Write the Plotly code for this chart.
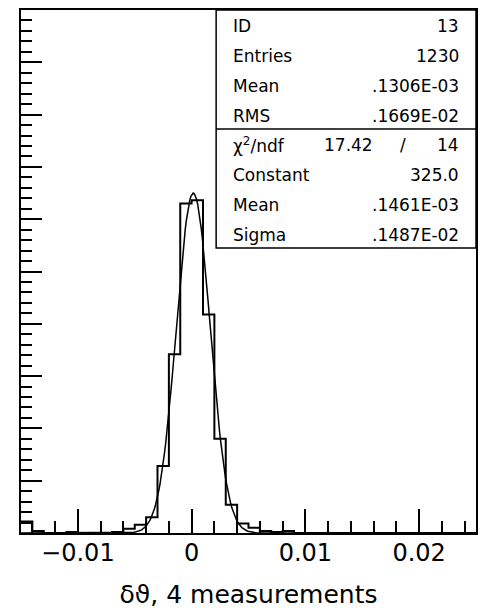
import numpy as np
import plotly.graph_objects as go

# histogram: 40 bins of 0.001 from -0.015 to 0.025
x_min = -0.015
bin_width = 0.001
counts = [11, 2, 0, 0, 1, 0, 0, 0, 1, 4,
          8, 15, 64, 171, 315, 318, 209, 90, 27, 9,
          5, 2, 1, 2, 0, 0, 0, 0, 0, 0,
          0, 0, 0, 0, 0, 0, 0, 0, 0, 0]

# gaussian fit parameters from the stats box
fit_const = 325.0
fit_mean = 0.1461e-03
fit_sigma = 0.1487e-02

stat_labels = ["ID", "Entries", "Mean", "RMS"]
stat_values = ["13", "1230", ".1306E-03", ".1669E-02"]
fit_labels = ["Constant", "Mean", "Sigma"]
fit_values = ["325.0", ".1461E-03", ".1487E-02"]
chi2 = "17.42"
ndf = "14"

edges = [x_min + bin_width * i for i in range(len(counts) + 1)]
hx = edges
hy = counts + [counts[-1]]

xf = np.linspace(edges[0], edges[-1], 400)
yf = fit_const * np.exp(-0.5 * ((xf - fit_mean) / fit_sigma) ** 2)

fig = go.Figure()
fig.add_trace(go.Scatter(x=hx, y=hy, mode="lines", line_shape="hv",
                         line=dict(color="black", width=2), showlegend=False))
fig.add_trace(go.Scatter(x=xf, y=yf, mode="lines",
                         line=dict(color="black", width=1.5), showlegend=False))

# plot area in pixels: x 21..478, y 10..533
L, R, T, B = 21, 478, 10, 533
def px(x):
    return (x - L) / (R - L)
def py(y):
    return (B - y) / (B - T)

font = dict(family="DejaVu Sans", size=17, color="black")
box_l, box_r, box_t, box_b = 217, 478, 10, 248
row_h = (box_b - box_t) / 8
fig.add_shape(type="rect", xref="paper", yref="paper",
              x0=px(box_l), x1=px(box_r), y0=py(box_b), y1=py(box_t),
              line=dict(color="black", width=1.5), fillcolor="white")
fig.add_shape(type="line", xref="paper", yref="paper",
              x0=px(box_l), x1=px(box_r), y0=py(box_t + 4 * row_h), y1=py(box_t + 4 * row_h),
              line=dict(color="black", width=1.5))

def note(x, y, text, anchor):
    fig.add_annotation(x=px(x), y=y, text=text, xanchor=anchor, yanchor="middle",
                       showarrow=False, font=font, xref="paper", yref="paper")

rows = list(zip(stat_labels, stat_values)) + [(None, None)] + list(zip(fit_labels, fit_values))
for i, (lab, val) in enumerate(rows):
    yc = py(box_t + row_h * (i + 0.5) + 1.5)
    if lab is None:
        note(232, yc, "χ<sup>2</sup>/ndf", "left")
        note(377, yc, chi2, "right")
        note(405, yc, "/", "center")
        note(463, yc, ndf, "right")
        continue
    note(232, yc, lab, "left")
    note(463, yc, val, "right")

axis_font = dict(family="DejaVu Sans", size=24, color="black")
fig.update_xaxes(range=[edges[0], edges[-1]], dtick=0.01, tick0=0,
                 ticks="inside", ticklen=24, tickwidth=1.5, tickcolor="black",
                 minor=dict(dtick=0.002, tick0=0, ticks="inside", ticklen=12,
                            tickwidth=1.5, tickcolor="black"),
                 showline=True, linecolor="black", linewidth=2, mirror=True,
                 showgrid=False, zeroline=False, tickfont=axis_font,
                 ticklabelstandoff=-3,
                 title=dict(text="δϑ, 4 measurements",
                            font=dict(family="DejaVu Sans", size=25, color="black"),
                            standoff=20))
fig.update_yaxes(range=[0, 500], dtick=50, tick0=0,
                 ticks="inside", ticklen=21, tickwidth=1.5, tickcolor="black",
                 minor=dict(dtick=10, tick0=0, ticks="inside", ticklen=11,
                            tickwidth=1.5, tickcolor="black"),
                 showline=True, linecolor="black", linewidth=2, mirror=True,
                 showgrid=False, zeroline=False, showticklabels=False)
fig.update_layout(width=481, height=616, plot_bgcolor="white", paper_bgcolor="white",
                  margin=dict(l=L, r=481 - R, t=T, b=616 - B))
fig.write_html("out.html", config={"displayModeBar": False},
               post_script="document.body.style.margin='0';")
